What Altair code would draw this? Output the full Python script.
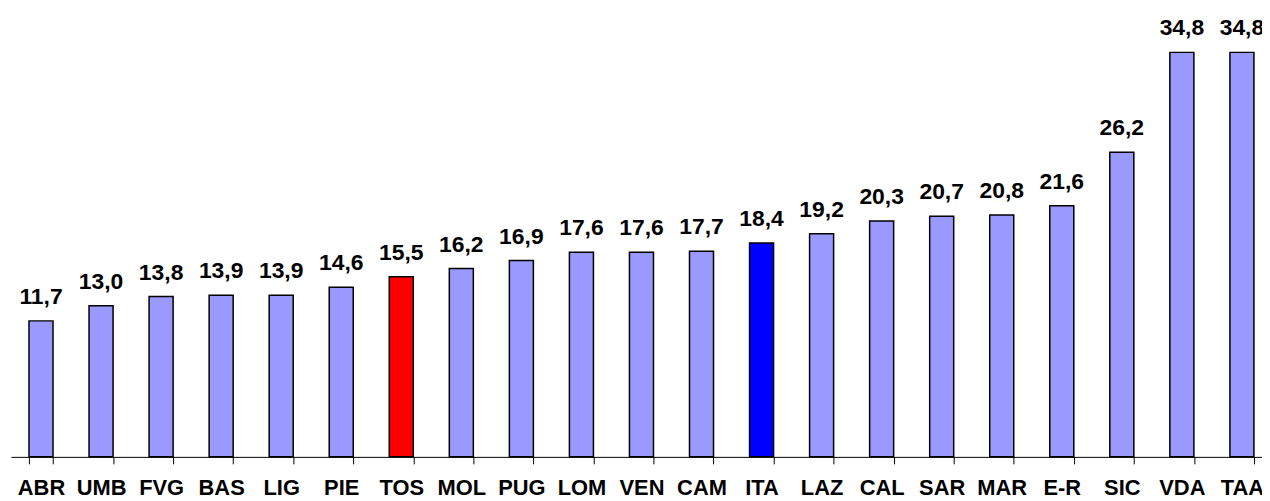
import altair as alt
import pandas as pd

regions = ["ABR", "UMB", "FVG", "BAS", "LIG", "PIE", "TOS", "MOL", "PUG", "LOM", "VEN",
           "CAM", "ITA", "LAZ", "CAL", "SAR", "MAR", "E-R", "SIC", "VDA", "TAA"]
values = [11.7, 13.0, 13.8, 13.9, 13.9, 14.6, 15.5, 16.2, 16.9, 17.6, 17.6,
          17.7, 18.4, 19.2, 20.3, 20.7, 20.8, 21.6, 26.2, 34.8, 34.8]
highlight = {"TOS": "tos", "ITA": "ita"}

df = pd.DataFrame({
    "reg": regions,
    "val": values,
    "lab": [f"{v:.1f}".replace(".", ",") for v in values],
    "grp": [highlight.get(r, "other") for r in regions],
})

FONT = "Liberation Sans"

base = alt.Chart(df).encode(
    x=alt.X("reg:N", sort=regions, title=None,
            scale=alt.Scale(paddingInner=0.6, paddingOuter=0.3, range=[0, 1268]),
            axis=alt.Axis(labelAngle=0, labelFont=FONT, labelFontSize=22,
                          labelFontWeight="bold", labelColor="black",
                          labelBaseline="alphabetic", labelPadding=31,
                          domainColor="black", tickColor="black", tickSize=7,
                          tickBand="extent", domainWidth=1)),
    y=alt.Y("val:Q", scale=alt.Scale(domain=[0, 38.5], nice=False), axis=None),
)

bars = base.mark_bar(stroke="black", strokeWidth=1.5).encode(
    color=alt.Color("grp:N", scale=alt.Scale(domain=["other", "tos", "ita"],
                                             range=["#9999FF", "#FF0000", "#0000FF"]),
                    legend=None)
)

labels = base.mark_text(font=FONT, fontSize=23, fontWeight="bold", color="black",
                        baseline="alphabetic", dy=-17).encode(text="lab:N")

chart = (bars + labels).properties(
    width=1258, height=450,
    autosize=alt.AutoSizeParams(type="none"),
    padding={"left": 3, "top": 0, "right": 0, "bottom": 43},
).configure_view(stroke=None)

chart.save("out.html", embed_options={"renderer": "svg", "actions": False})
